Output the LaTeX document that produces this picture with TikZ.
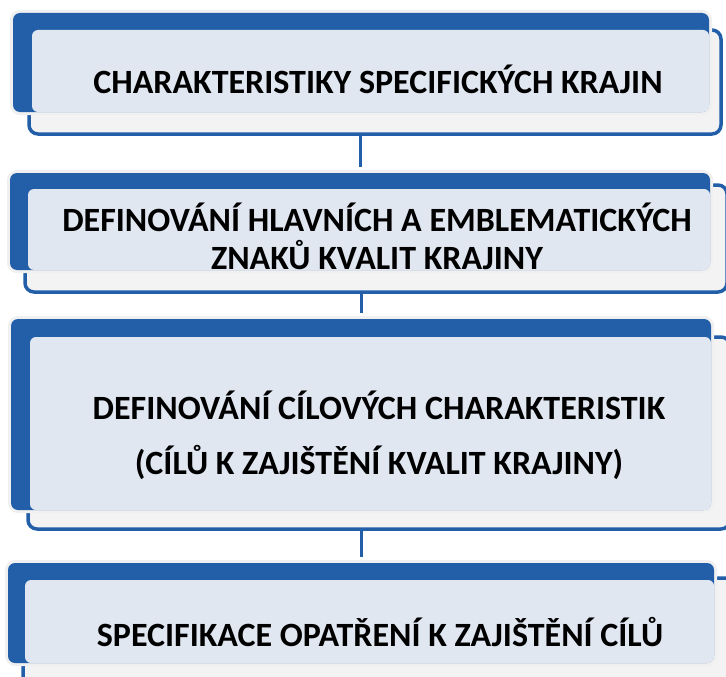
\documentclass[tikz,border=0pt]{standalone}
\usepackage{fontspec}
\setmainfont{Carlito}
\definecolor{dkblue}{RGB}{34,95,168}
\definecolor{ltblue}{RGB}{225,231,241}
\definecolor{ltgrey}{RGB}{243,243,243}
\tikzset{
  frontbox/.style={draw=dkblue, line width=3.5pt, fill=ltgrey, rounded corners=9pt, inner sep=0pt, outer sep=0pt, anchor=north west},
  backbox/.style={fill=dkblue, preaction={draw=black!6, line width=6pt}, rounded corners=7pt, inner sep=0pt, outer sep=0pt, anchor=north west},
  innerbox/.style={fill=ltblue, rounded corners=6pt, inner sep=0pt, outer sep=0pt, anchor=north west},
  boxtext/.style={font=\fontsize{34}{38}\selectfont\bfseries, align=center},
  link/.style={draw=dkblue, line width=3pt}
}
\begin{document}
\begin{tikzpicture}[x=1pt,y=-1pt]
\useasboundingbox (0,0) rectangle (726,677);
\clip (0,0) rectangle (726,677);
% step 1
\node[frontbox, minimum width=692, minimum height=104] (f1) at (29,30){};
\node[backbox, minimum width=696, minimum height=99] (b1) at (13,13){};
\node[innerbox, minimum width=677, minimum height=82] (i1) at (32,30){};
\node[boxtext] (t1) at (378,79){CHARAKTERISTIKY SPECIFICKÝCH KRAJIN};
% step 2
\node[frontbox, minimum width=702, minimum height=107] (f2) at (25,185){};
\node[backbox, minimum width=700, minimum height=97] (b2) at (10,173){};
\node[innerbox, minimum width=682, minimum height=81] (i2) at (28,189){};
\node[boxtext] (t2) at (377,236){DEFINOVÁNÍ HLAVNÍCH A EMBLEMATICKÝCH\\ZNAKŮ KVALIT KRAJINY};
% step 3
\node[frontbox, minimum width=702, minimum height=192] (f3) at (28,337){};
\node[backbox, minimum width=700, minimum height=191] (b3) at (11,319){};
\node[innerbox, minimum width=681, minimum height=173] (i3) at (30,337){};
\node[boxtext] (t3) at (379,435){DEFINOVÁNÍ CÍLOVÝCH CHARAKTERISTIK\\[17pt](CÍLŮ K ZAJIŠTĚNÍ KVALIT KRAJINY)};
% step 4
\node[frontbox, minimum width=720, minimum height=110] (f4) at (23,578){};
\node[backbox, minimum width=706, minimum height=100] (b4) at (8,563){};
\node[innerbox, minimum width=689, minimum height=83] (i4) at (25,580){};
\node[boxtext] (t4) at (380,632){SPECIFIKACE OPATŘENÍ K ZAJIŠTĚNÍ CÍLŮ};

\draw[link] (f1.south -| b2.north) -- ([yshift=6pt]b2.north);
\draw[link] (f2.south -| b3.north) -- ([yshift=6pt]b3.north);
\draw[link] (f3.south -| b4.north) -- ([yshift=6pt]b4.north);
\end{tikzpicture}
\end{document}
